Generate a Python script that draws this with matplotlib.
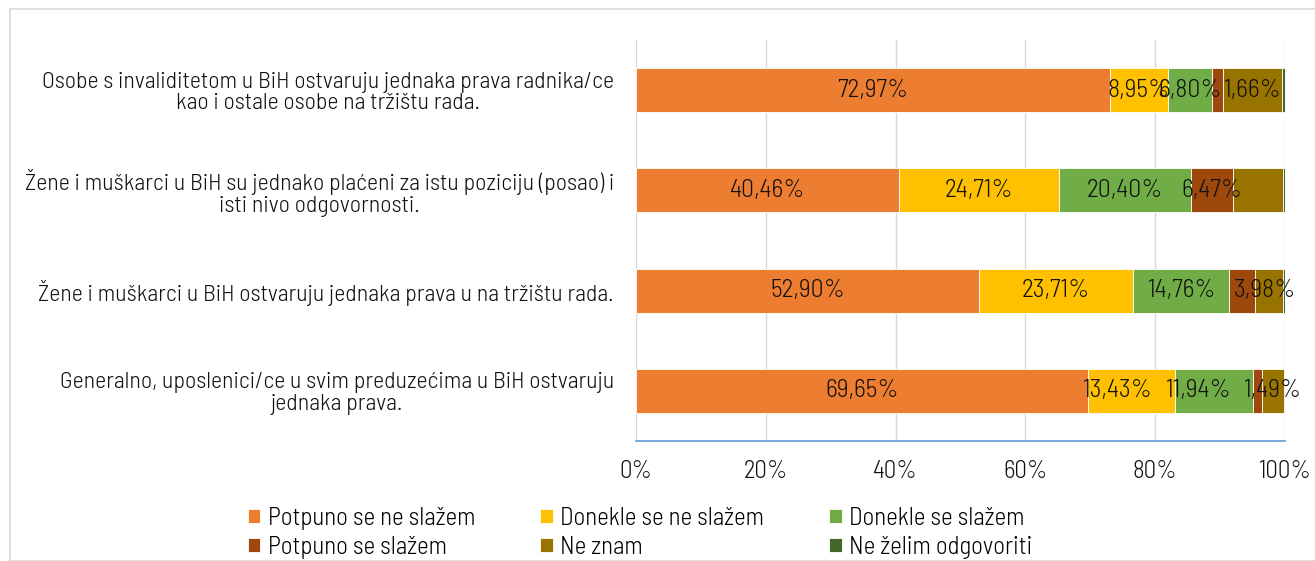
import matplotlib
matplotlib.use("Agg")
import matplotlib.pyplot as plt
from matplotlib.patches import Rectangle
import numpy as np

plt.rcParams['font.family'] = ['Barlow Semi Condensed', 'DejaVu Sans']
plt.rcParams['font.weight'] = 300

categories = [
    "Osobe s invaliditetom u BiH ostvaruju jednaka prava radnika/ce\nkao i ostale osobe na tržištu rada.",
    "Žene i muškarci u BiH su jednako plaćeni za istu poziciju (posao) i\nisti nivo odgovornosti.",
    "Žene i muškarci u BiH ostvaruju jednaka prava u na tržištu rada.",
    "Generalno, uposlenici/ce u svim preduzećima u BiH ostvaruju\njednaka prava.",
]
series = ["Potpuno se ne slažem", "Donekle se ne slažem", "Donekle se slažem",
          "Potpuno se slažem", "Ne znam", "Ne želim odgovoriti"]
colors = ["#ED7D31", "#FFC000", "#70AD47", "#9E480E", "#997300", "#43682B"]

potpuno_ne = [72.97, 40.46, 52.90, 69.65]
donekle_ne = [8.95, 24.71, 23.71, 13.43]
donekle_da = [6.80, 20.40, 14.76, 11.94]
potpuno_da = [1.66, 6.47, 3.98, 1.49]
ne_znam = [9.12, 7.63, 4.31, 3.32]
ne_zelim = [0.50, 0.33, 0.33, 0.17]
values = [potpuno_ne, donekle_ne, donekle_da, potpuno_da, ne_znam, ne_zelim]

# label shifts (in %) where the original labels were nudged to avoid overlap
label_shift = {(3, 0): 5.4, (3, 2): 3.6, (3, 3): 2.2, (1, 3): -2.2, (2, 3): -2.5}

fig = plt.figure(figsize=(13.15, 5.61), dpi=100)
fig.patches.append(Rectangle((10 / 1315, 0), 1.2, 1 - 9 / 561, transform=fig.transFigure,
                             fill=False, edgecolor="#D9D9D9", linewidth=1.2))
ax = fig.add_axes([636 / 1315, 1 - 441 / 561, 649 / 1315, 401 / 561])

y = np.arange(len(categories))
left = np.zeros(len(categories))
handles = []
for i, (name, vals, col) in enumerate(zip(series, values, colors)):
    vals = np.array(vals)
    b = ax.barh(y, vals, left=left, height=0.44, color=col, edgecolor="white",
                linewidth=0.6, label=name, zorder=3)
    handles.append(b)
    if i < 4:
        for j in range(len(categories)):
            cx = left[j] + vals[j] / 2 + label_shift.get((i, j), 0)
            ax.text(cx, y[j], f"{vals[j]:.2f}%".replace(".", ","), ha="center", va="center",
                    fontsize=18.5, color="#111111", zorder=4)
    left = left + vals

ax.set_xlim(0, 100)
ax.set_ylim(3.5, -0.5)
ax.set_xticks(np.arange(0, 101, 20))
ax.set_xticklabels([f"{t}%" for t in range(0, 101, 20)], fontsize=18, color="#111111")
ax.set_yticks(y)
ax.set_yticklabels(categories, fontsize=17.2, color="#111111", multialignment="center",
                   linespacing=1.05)
ax.tick_params(axis="both", length=0)
ax.tick_params(axis="y", pad=16)
ax.tick_params(axis="x", pad=14)
ax.grid(axis="x", color="#D9D9D9", linewidth=1, zorder=0)
for s in ["top", "right", "left"]:
    ax.spines[s].set_visible(False)
ax.spines["bottom"].set_color("#5B9BD5")
ax.spines["bottom"].set_linewidth(1.2)

order = [0, 3, 1, 4, 2, 5]
fig.legend([handles[k] for k in order], [series[k] for k in order], ncol=3,
           loc="center", bbox_to_anchor=(640 / 1315, 1 - 533 / 561), frameon=False,
           fontsize=18, handlelength=0.5, handleheight=0.5, handletextpad=0.3,
           columnspacing=2.6, labelspacing=0.25, borderpad=0)

fig.savefig("out.png", dpi=100)
